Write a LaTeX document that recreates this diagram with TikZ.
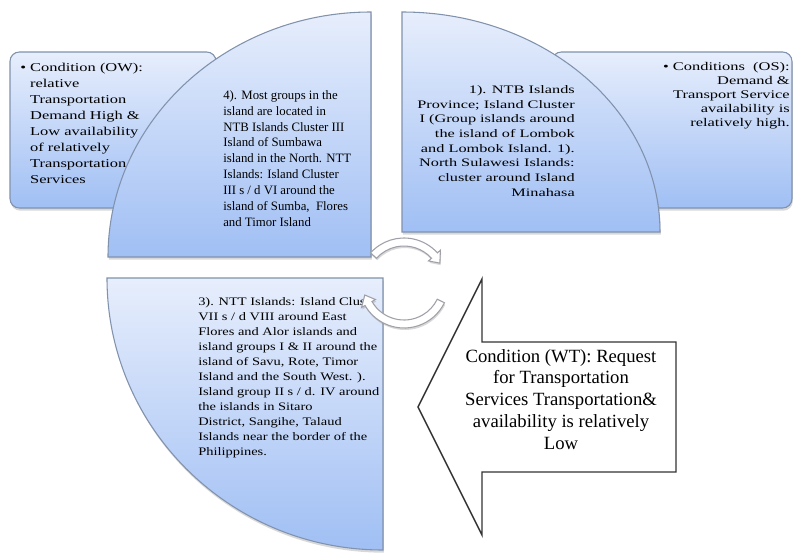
\documentclass[tikz,border=0pt]{standalone}
\usepackage{fontspec}
\usepackage{graphicx}
\setmainfont{Liberation Serif}
\usetikzlibrary{shadows}

\definecolor{qtop}{HTML}{E7EEFC}
\definecolor{qbot}{HTML}{A0BFF4}
\definecolor{qline}{HTML}{8192AD}
\definecolor{ringline}{HTML}{A0A0A8}

% a block of lines, widened horizontally by #1, column spec #2
\newcommand{\wideblock}[3]{\scalebox{#1}[1]{\begin{tabular}{@{}#2@{}}#3\end{tabular}}}

\begin{document}
\begin{tikzpicture}[x=0.75pt,y=-0.75pt,
  panel/.style={draw=qline, line width=0.8pt, top color=qtop, bottom color=qbot,
    drop shadow={shadow xshift=0.6pt, shadow yshift=-2pt, opacity=0.3}},
  condbox/.style={panel, rounded corners=7pt},
  ringarrow/.style={draw=ringline, line width=0.8pt, fill=white,
    drop shadow={shadow xshift=0.6pt, shadow yshift=-1.5pt, opacity=0.3}},
  bigarrow/.style={draw=black!80, line width=1.1pt, fill=white},
  txt/.style={inner sep=0pt, text=black}]

% canvas
\fill[white] (0,0) rectangle (793,554);
\useasboundingbox (0,0) rectangle (793,554);

% condition boxes behind the quadrants
\path[condbox] (10,52) rectangle (216,208);
\path[condbox] (552,52) rectangle (792,208);

% three quadrants of the circle
\path[panel] (371,257) -- (108,257)
  arc[start angle=180, end angle=270, x radius=263, y radius=245] -- cycle;
\path[panel] (402,232) -- (402,12)
  arc[start angle=270, end angle=360, x radius=258, y radius=220] -- cycle;
\path[panel] (383,278) -- (107,278)
  arc[start angle=180, end angle=90, x radius=276, y radius=272] -- cycle;

% text of the condition boxes
\node[txt, anchor=north west, font=\fontsize{9}{12}\selectfont] (owtext) at (20,60)
  {\wideblock{1.37}{l}{\textbullet\ Condition (OW):\\ \hphantom{\textbullet\ }relative\\
   \hphantom{\textbullet\ }Transportation\\ \hphantom{\textbullet\ }Demand High \&\\
   \hphantom{\textbullet\ }Low availability\\ \hphantom{\textbullet\ }of relatively\\
   \hphantom{\textbullet\ }Transportation\\ \hphantom{\textbullet\ }Services}};
\node[txt, anchor=north east, font=\fontsize{8.8}{10.4}\selectfont] (ostext) at (790,61)
  {\wideblock{1.40}{r}{\textbullet\ Conditions\ \ (OS):\\ Demand \&\\ Transport Service\\
   availability is\\ relatively high.}};

% text of the quadrants
\node[txt, anchor=north west, font=\fontsize{9.6}{11.9}\selectfont] (qfour) at (223,88)
  {\begin{tabular}{@{}l@{}}4). Most groups in the\\ island are located in\\ NTB Islands Cluster III\\
   Island of Sumbawa\\ island in the North. NTT\\ Islands: Island Cluster\\
   III s / d VI around the\\ island of Sumba,\ \ Flores\\ and Timor Island\end{tabular}};
\node[txt, anchor=north east, font=\fontsize{8.6}{11}\selectfont] (qone) at (575,83)
  {\wideblock{1.42}{r}{1). NTB Islands\\ Province; Island Cluster\\ I (Group islands around\\
   the island of Lombok\\ and Lombok Island. 1).\\ North Sulawesi Islands:\\
   cluster around Island\\ Minahasa}};
\node[txt, anchor=north west, font=\fontsize{8.6}{11.25}\selectfont] (qthree) at (198,295)
  {\wideblock{1.26}{l}{3). NTT Islands: Island Clus\\ VII s / d VIII around East\\
   Flores and Alor islands and\\ island groups I \& II around the\\
   island of Savu, Rote, Timor\\ Island and the South West. ).\\
   Island group II s / d. IV around\\ the islands in Sitaro\\
   District, Sangihe, Talaud\\ Islands near the border of the\\ Philippines.}};

% block arrow for the fourth condition
\path[bigarrow] (418,407) -- (482,279) -- (482,342) -- (676,342)
  -- (676,472) -- (482,472) -- (482,535) -- cycle;
\node[txt, anchor=north, align=center,
  font=\fontsize{14}{16.3}\selectfont] (wttext) at (561,349)
  {Condition (WT): Request\\ for Transportation\\ Services Transportation\&\\
   availability is relatively\\ Low};

% circular arrows in the middle
\coordinate (hub) at (404,283);
\path[ringarrow, shift={(hub)}] (222:45)
  arc[start angle=222, end angle=318, radius=45] -- (318:49) -- (331:41)
  -- (318:33) -- (318:37) arc[start angle=318, end angle=222, radius=37] -- cycle;
\path[ringarrow, shift={(hub)}] (26:45)
  arc[start angle=26, end angle=150, radius=45] -- (150:49) -- (163:41)
  -- (150:33) -- (150:37) arc[start angle=150, end angle=26, radius=37] -- cycle;
\end{tikzpicture}
\end{document}
